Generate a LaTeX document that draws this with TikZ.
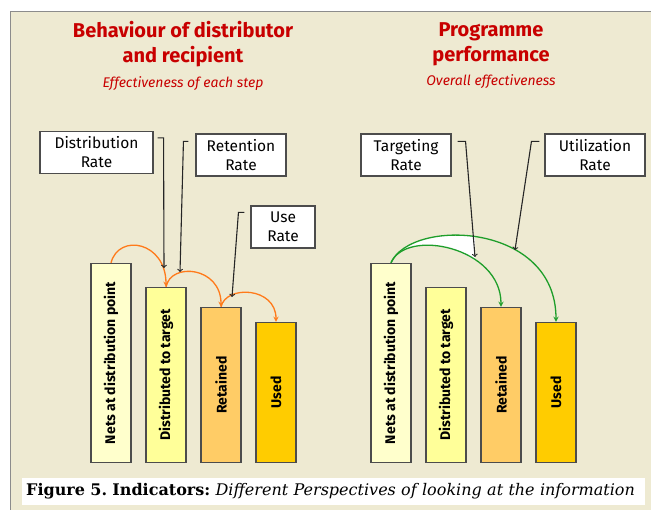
\documentclass[tikz,border=0pt]{standalone}
\usepackage{fontspec}
\usepackage{tikz}
\usetikzlibrary{arrows}
\newfontfamily\handfont{Fira Sans}
\newfontfamily\capfont{DejaVu Serif}
\definecolor{paper}{HTML}{EEEAD2}
\definecolor{titlered}{HTML}{C80000}
\definecolor{nets}{HTML}{FFFFCC}
\definecolor{distr}{HTML}{FFFF99}
\definecolor{retain}{HTML}{FFCC66}
\definecolor{used}{HTML}{FFCC00}
\definecolor{steparc}{HTML}{FF7A1A}
\definecolor{totalarc}{HTML}{1E9E2A}
\tikzset{
  bar/.style={draw=black!70,line width=1.2pt,rotate=90,anchor=west,minimum height=40pt,inner sep=0pt,font=\handfont\bfseries\fontsize{14}{16}\selectfont},
  callout/.style={draw=black!70,fill=white,line width=1.1pt,minimum height=42pt,inner sep=0pt,align=center,font=\handfont\fontsize{15.5}{19}\selectfont},
  pointer/.style={->,line width=1.1pt,black!85},
  flow/.style={-stealth,line width=1.3pt},
  heading/.style={align=center,text=titlered,font=\handfont\bfseries\fontsize{20}{25}\selectfont},
  subheading/.style={text=titlered,font=\handfont\itshape\fontsize{14}{16}\selectfont}
}
\begin{document}
\begin{tikzpicture}[x=1pt,y=-1pt]
\useasboundingbox (0,0) rectangle (651,510);
\fill[paper] (10,12) rectangle (651,510);
\draw[black!45,line width=1pt] (651,12) -- (10,12) -- (10,510);

\node[heading] (lt) at (183,44) {Behaviour of distributor\\and recipient};
\node[subheading] (ls) at (183,84) {Effectiveness of each step};
\node[heading] (rt) at (491,44) {Programme\\performance};
\node[subheading] (rs) at (491,82) {Overall effectiveness};

\node[bar,fill=nets,minimum width=199pt] (l1) at (111,463) {Nets at distribution point};
\node[bar,fill=distr,minimum width=175pt] (l2) at (166,463) {Distributed to target};
\node[bar,fill=retain,minimum width=155pt] (l3) at (221,463) {Retained};
\node[bar,fill=used,minimum width=140pt] (l4) at (276,463) {Used};

\node[bar,fill=nets,minimum width=199pt] (r1) at (391,463) {Nets at distribution point};
\node[bar,fill=distr,minimum width=175pt] (r2) at (446,463) {Distributed to target};
\node[bar,fill=retain,minimum width=155pt] (r3) at (501,463) {Retained};
\node[bar,fill=used,minimum width=140pt] (r4) at (556,463) {Used};

\draw[flow,steparc] (l1.east) .. controls +(8,-30) and +(0,-45) .. (l2.east);
\draw[flow,steparc] (l2.east) .. controls +(5,-25) and +(0,-40) .. (l3.east);
\draw[flow,steparc] (l3.east) .. controls +(5,-22) and +(0,-35) .. (l4.east);

\begin{scope}
\clip (385,220) rectangle (475,270);
\fill[white] (r1.east) .. controls +(20,-45) and +(0,-100) .. (r4.east) -- (r3.east) .. controls +(0,-60) and +(15,-35) .. (r1.east) -- cycle;
\end{scope}
\draw[flow,totalarc] (r1.east) .. controls +(15,-35) and +(0,-60) .. (r3.east);
\draw[flow,totalarc] (r1.east) .. controls +(20,-45) and +(0,-100) .. (r4.east);

\node[callout,minimum width=113pt] (dr) at (96.5,152.5) {Distribution\\Rate};
\node[callout,minimum width=90pt] (rr) at (241,155) {Retention\\Rate};
\node[callout,minimum width=64pt] (ur) at (283,227) {Use\\Rate};
\node[callout,minimum width=90pt] (tr) at (406,155) {Targeting\\Rate};
\node[callout,minimum width=100pt] (zr) at (595,155) {Utilization\\Rate};

\coordinate (d1) at (164,268);
\coordinate (d2) at (180,272);
\coordinate (d3) at (232,297);
\coordinate (t1) at (475,257);
\coordinate (t2) at (515,250);
\draw[pointer] ([xshift=4pt,yshift=-7pt]dr.north east) -- ++(6,0) -- (d1);
\draw[pointer] ([xshift=-7pt,yshift=-8pt]rr.north west) -- ++(-5,0) -- (d2);
\draw[pointer] ([xshift=-6pt,yshift=-7pt]ur.north west) -- ++(-6,0) -- (d3);
\draw[pointer] ([xshift=6pt,yshift=-8pt]tr.north east) -- ++(8,0) -- (t1);
\draw[pointer] ([xshift=-5pt,yshift=-8pt]zr.north west) -- ++(-8,0) -- (t2);

\node[fill=white,anchor=west,text width=615pt,align=left,minimum height=27pt,inner xsep=4pt,inner ysep=0pt,font=\capfont\fontsize{16}{18}\selectfont\frenchspacing] (cap) at (22,491.5) {\textbf{Figure 5. Indicators:} \textit{Different Perspectives of looking at the information}};
\end{tikzpicture}
\end{document}
